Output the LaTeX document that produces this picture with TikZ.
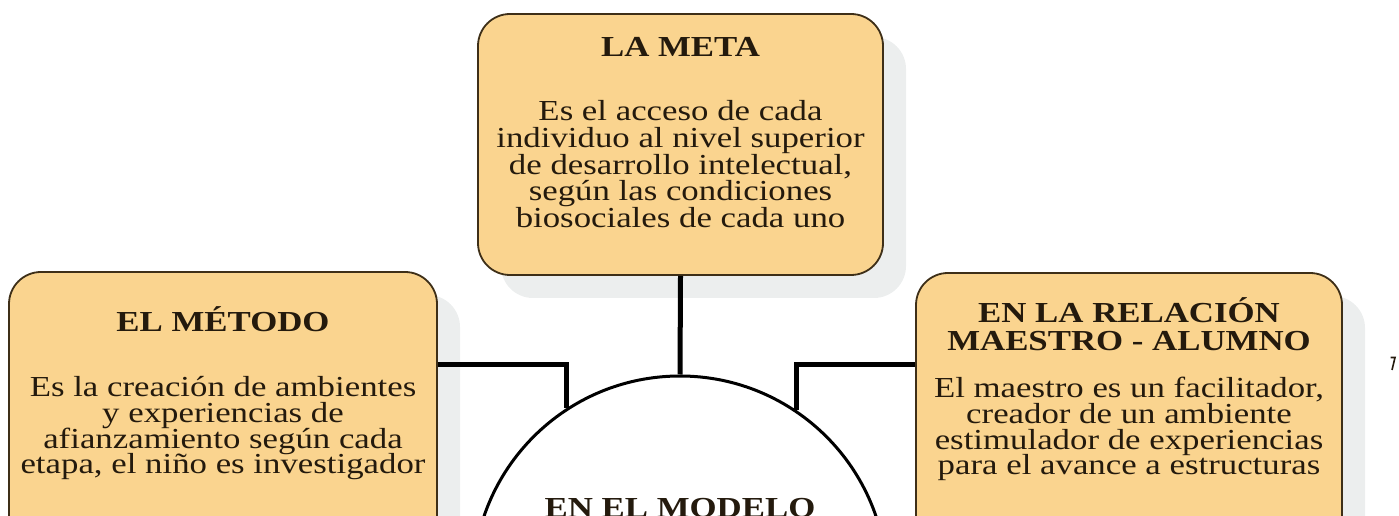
\documentclass[tikz,border=0pt]{standalone}
\usepackage{fontspec}
\setmainfont{Liberation Serif}
\usetikzlibrary{shadows}
\definecolor{boxfill}{HTML}{FAD48F}
\definecolor{boxline}{HTML}{3E2F18}
\definecolor{txtc}{HTML}{241A0D}
\definecolor{shadowc}{HTML}{ECEEEE}
\begin{document}
\begin{tikzpicture}[x=1pt,y=1pt,
  card/.style={draw=boxline, line width=1.8pt, fill=boxfill, rounded corners=32pt, inner sep=0pt,
    drop shadow={shadow xshift=23pt, shadow yshift=-23pt, fill=shadowc, opacity=1}},
  ttl/.style={font=\fontsize{29}{29}\selectfont\bfseries, text=txtc, anchor=base, xscale=1.2, inner sep=0pt},
  bodytxt/.style={font=\fontsize{29}{29}\selectfont, text=txtc, anchor=base, xscale=1.2, inner sep=0pt},
  link/.style={line width=5pt, draw=black}]
\useasboundingbox (0,0) rectangle (1399,516);
\clip (0,0) rectangle (1399,516);

% boxes
\node[card, minimum width=405pt, minimum height=261pt] (meta) at (680.5,371.5) {};
\node[card, minimum width=428pt, minimum height=304pt] (metodo) at (223,92) {};
\node[card, minimum width=426pt, minimum height=303pt] (rel) at (1129,91.5) {};

% central circle
\node[circle, draw=black, line width=3pt, fill=white, minimum size=414pt, inner sep=0pt] (modelo) at (680,-67) {};

% connectors
\coordinate (ly) at (0,151.5);
\draw[link] (meta.south) -- (modelo.north);
\draw[link] (metodo.east |- ly) -| (modelo.123.8);
\draw[link] (rel.west |- ly) -| (modelo.56.7);

% texts
\node[ttl] (metaT) at (680.5,459) {LA META};
\foreach \t [count=\i] in {{Es el acceso de cada},{individuo al nivel superior},{de desarrollo intelectual,},{según las condiciones},{biosociales de cada uno}}
  \node[bodytxt] (metaB\i) at (680.5,{395-26.6*(\i-1)}) {\t};

\node[ttl] (metodoT) at (223,184) {EL MÉTODO};
\foreach \t [count=\i] in {{Es la creación de ambientes},{y experiencias de},{afianzamiento según cada},{etapa, el niño es investigador}}
  \node[bodytxt] (metodoB\i) at (223,{119-25.6*(\i-1)}) {\t};

\node[ttl] (relT1) at (1129,193) {EN LA RELACIÓN};
\node[ttl] (relT2) at (1129,165) {MAESTRO - ALUMNO};
\foreach \t [count=\i] in {{El maestro es un facilitador,},{creador de un ambiente},{estimulador de experiencias},{para el avance a estructuras}}
  \node[bodytxt] (relB\i) at (1129,{118-25.6*(\i-1)}) {\t};

\node[ttl] (modeloT) at (680,-2) {EN EL MODELO};

% stray mark at right edge
\draw[line width=1.6pt, draw=txtc] (1390.5,158.5) -- (1395,158.5) -- (1392,146);
\end{tikzpicture}
\end{document}
